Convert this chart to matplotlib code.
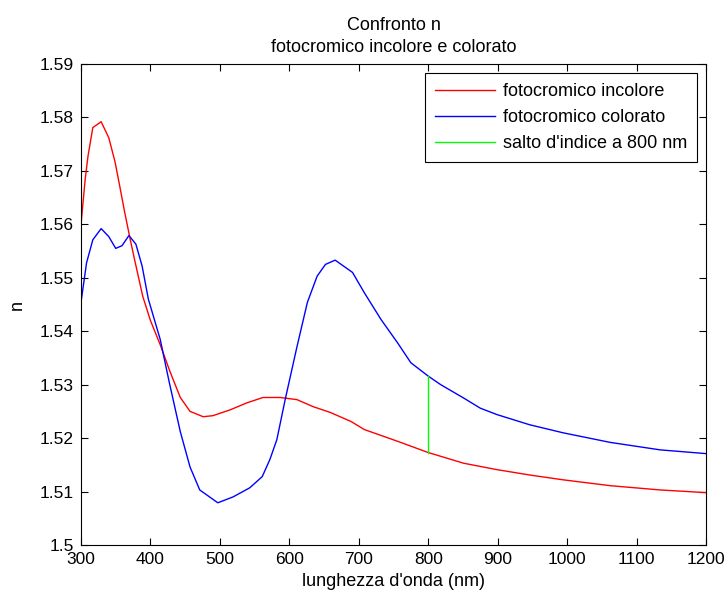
import numpy as np
import matplotlib
matplotlib.use("Agg")
from matplotlib import pyplot as plt

plt.rcParams['font.family'] = ['Liberation Sans', 'DejaVu Sans']

# fotocromico incolore
x_inc = [300, 306, 310, 317, 329, 340, 349, 356, 363, 371, 378, 389, 400, 414, 428, 443,
         457, 476, 490, 515, 539, 562, 587, 611, 634, 659, 689, 708, 756, 800, 851, 899,
         946, 994, 1062, 1134, 1200]
n_inc = [1.5600, 1.5684, 1.5727, 1.5781, 1.5792, 1.5762, 1.5717, 1.5670, 1.5622, 1.5571,
         1.5529, 1.5465, 1.5420, 1.5375, 1.5325, 1.5276, 1.5250, 1.5240, 1.5242, 1.5253,
         1.5266, 1.5276, 1.5276, 1.5272, 1.5259, 1.5248, 1.5231, 1.5216, 1.5194, 1.5173,
         1.5153, 1.5141, 1.5131, 1.5122, 1.5111, 1.5103, 1.5098]

# fotocromico colorato
x_col = [300, 308, 317, 329, 340, 350, 359, 369, 379, 388, 397, 414, 427, 443, 457, 471,
         497, 519, 543, 561, 572, 582, 594, 611, 626, 640, 652, 666, 691, 708, 732, 756,
         775, 800, 818, 851, 875, 899, 946, 994, 1062, 1134, 1200]
n_col = [1.5454, 1.5528, 1.5571, 1.5592, 1.5577, 1.5555, 1.5560, 1.5579, 1.5563, 1.5522,
         1.5460, 1.5385, 1.5305, 1.5212, 1.5146, 1.5103, 1.5079, 1.5090, 1.5107, 1.5128,
         1.5160, 1.5197, 1.5272, 1.5371, 1.5454, 1.5503, 1.5525, 1.5533, 1.5510, 1.5472,
         1.5422, 1.5378, 1.5341, 1.5316, 1.5300, 1.5275, 1.5256, 1.5244, 1.5225, 1.5210,
         1.5192, 1.5178, 1.5171]

# salto d'indice
salto_x = [800, 800]
salto_n = [1.5173, 1.5316]

xticks = [300, 400, 500, 600, 700, 800, 900, 1000, 1100, 1200]
yticks = [1.5, 1.51, 1.52, 1.53, 1.54, 1.55, 1.56, 1.57, 1.58, 1.59]

fig = plt.figure(figsize=(7.26, 6.01), dpi=100)
ax = fig.add_axes([81/726, 56/601, 625/726, 481/601])

ax.plot(x_inc, n_inc, color=(1, 0, 0), lw=1, label='fotocromico incolore')
ax.plot(x_col, n_col, color=(0, 0, 1), lw=1, label='fotocromico colorato')
ax.plot(salto_x, salto_n, color=(0, 1, 0), lw=1, label="salto d'indice a 800 nm")

ax.set_xlim(300, 1200)
ax.set_ylim(1.5, 1.59)
ax.set_xticks(xticks)
ax.set_xticklabels([str(t) for t in xticks])
ax.set_yticks(yticks)
ax.set_yticklabels(['%g' % t for t in yticks])
ax.tick_params(direction='in', top=True, right=True, length=5, labelsize=12.5, width=0.8)
ax.tick_params(axis='x', pad=5)
ax.tick_params(axis='y', pad=5)
for s in ax.spines.values():
    s.set_linewidth(0.8)

ax.set_xlabel("lunghezza d'onda (nm)", fontsize=13, labelpad=4)
ax.set_ylabel('n', fontsize=13, labelpad=10)
ax.set_title('Confronto n\nfotocromico incolore e colorato', fontsize=13, pad=9,
             linespacing=1.35)

leg = ax.legend(loc='upper right', fontsize=13, fancybox=False, framealpha=1,
                edgecolor='black', borderpad=0.55, handlelength=3.3, labelspacing=0.5,
                handletextpad=0.45, borderaxespad=0.5)
leg.get_frame().set_linewidth(0.8)

fig.savefig('out.png', dpi=100, facecolor='white')
